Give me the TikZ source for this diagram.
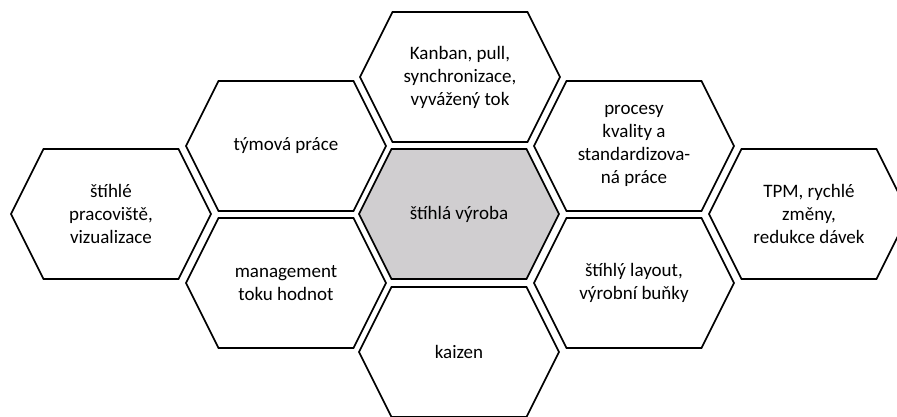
\documentclass[tikz,border=0pt]{standalone}
\usepackage{fontspec}
\setmainfont{Carlito}
\definecolor{coregray}{RGB}{208,206,208}
\tikzset{
  hexcell/.style={draw=black, line width=1.6pt, line join=miter},
  hextext/.style={align=center, font=\fontsize{19}{23}\selectfont, text=black},
}
% name, centre, fill, text
\newcommand{\hexa}[4]{%
  \filldraw[hexcell, fill=#3] (#2) ++(-100,0) -- ++(32.5,-65) -- ++(135,0)
    -- ++(32.5,65) -- ++(-32.5,65) -- ++(-135,0) -- cycle;
  \node[hextext] (#1) at (#2) {#4};
}

\begin{document}
\begin{tikzpicture}[x=1pt, y=-1pt]
	\clip (0,0) rectangle (897,416);
	\hexa{lean}{459,214}{coregray}{štíhlá výroba}
	\hexa{kanban}{460,77}{white}{Kanban, pull,\\synchronizace,\\vyvážený tok}
	\hexa{kaizen}{459,352}{white}{kaizen}
	\hexa{team}{286,146}{white}{týmová práce}
	\hexa{vsm}{286,283}{white}{management\\toku hodnot}
	\hexa{quality}{634,146}{white}{procesy\\kvality a\\standardizova-\\ná práce}
	\hexa{layout}{634,283}{white}{štíhlý layout,\\výrobní buňky}
	\hexa{workplace}{111,214}{white}{štíhlé\\pracoviště,\\vizualizace}
	\hexa{tpm}{809,214}{white}{TPM, rychlé\\změny,\\redukce dávek}
\end{tikzpicture}
\end{document}
